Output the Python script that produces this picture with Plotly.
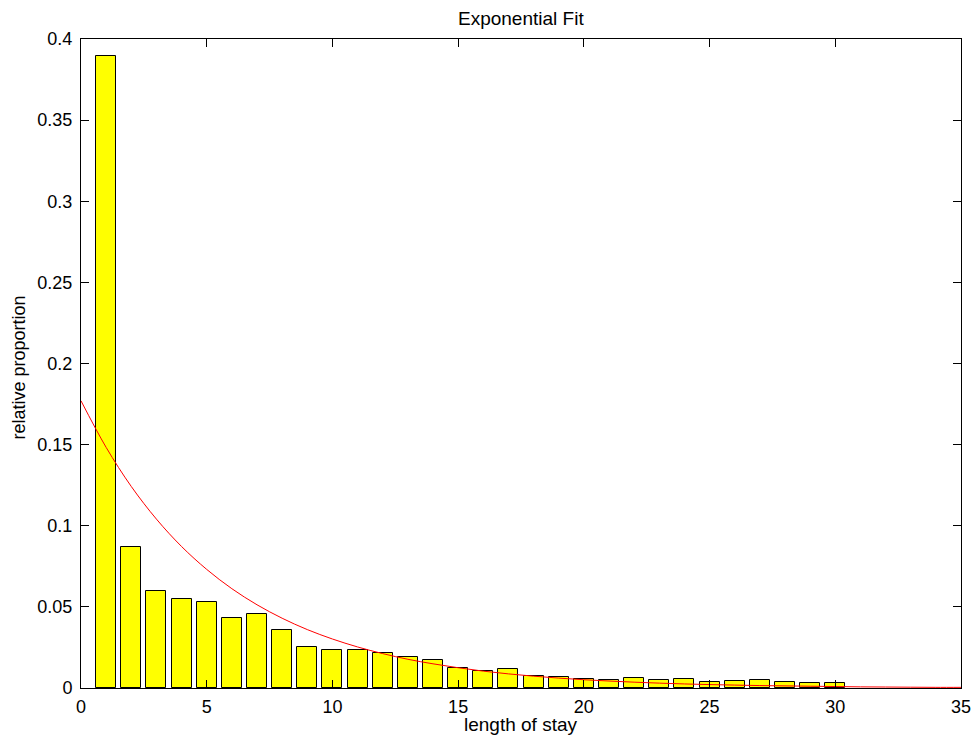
import plotly.graph_objects as go

# Data
stay_days = list(range(1, 31))
proportions = [0.3893, 0.0869, 0.0595, 0.0549, 0.0532, 0.0431, 0.0458, 0.0355,
               0.0253, 0.0234, 0.0234, 0.0216, 0.0189, 0.0174, 0.0123, 0.0105,
               0.0117, 0.0076, 0.0070, 0.0055, 0.0051, 0.0062, 0.0051, 0.0056,
               0.0040, 0.0046, 0.0048, 0.0038, 0.0033, 0.0033]

fit_x = list(range(0, 36))
fit_y = [0.1770, 0.1483, 0.1242, 0.1041, 0.0872, 0.0731, 0.0612, 0.0513, 0.0430,
         0.0360, 0.0302, 0.0253, 0.0212, 0.0177, 0.0149, 0.0125, 0.0104, 0.0087,
         0.0073, 0.0061, 0.0051, 0.0043, 0.0036, 0.0030, 0.0025, 0.0021, 0.0018,
         0.0015, 0.0013, 0.0011, 0.0009, 0.0007, 0.0006, 0.0005, 0.0004, 0.0004]

x_ticks = [0, 5, 10, 15, 20, 25, 30, 35]
y_ticks = [0, 0.05, 0.1, 0.15, 0.2, 0.25, 0.3, 0.35, 0.4]
y_tick_labels = ["0", "0.05", "0.1", "0.15", "0.2", "0.25", "0.3", "0.35", "0.4"]

FONT = "Liberation Sans, Arial, sans-serif"
FS = 18

fig = go.Figure()
fig.add_trace(go.Bar(x=stay_days, y=proportions, width=0.8,
                     marker=dict(color="#ffff00", line=dict(color="black", width=1)),
                     showlegend=False, hoverinfo="skip"))
fig.add_trace(go.Scatter(x=fit_x, y=fit_y, mode="lines", line=dict(color="red", width=1, shape="spline"),
                         showlegend=False, hoverinfo="skip", cliponaxis=False))

axis_common = dict(showgrid=False, zeroline=False, showline=True, linecolor="black", linewidth=1,
                   mirror="ticks", ticks="inside", ticklen=8, tickcolor="black", tickwidth=1,
                   ticklabeloverflow="allow", automargin=False,
                   tickfont=dict(family=FONT, size=FS, color="black"))

fig.update_xaxes(range=[0, 35], tickvals=x_ticks, ticktext=[str(v) for v in x_ticks],
                 ticklabelstandoff=2, **axis_common)
fig.update_yaxes(range=[0, 0.4], tickvals=y_ticks, ticktext=y_tick_labels,
                 ticklabelstandoff=4, **axis_common)

fig.update_layout(
    width=971, height=735,
    margin=dict(l=81, r=10, t=39, b=47, autoexpand=False),
    paper_bgcolor="white", plot_bgcolor="white",
    bargap=0,
    font=dict(family=FONT, color="black"),
    annotations=[
        dict(text="Exponential Fit", xref="paper", yref="paper", x=0.5, y=1, yshift=21,
             showarrow=False, font=dict(size=FS + 1, family=FONT), xanchor="center", yanchor="middle"),
        dict(text="length of stay", xref="paper", yref="paper", x=0.5, y=0, yshift=-36,
             showarrow=False, font=dict(size=FS + 1, family=FONT), xanchor="center", yanchor="middle"),
        dict(text="relative proportion", xref="paper", yref="paper", x=0, y=0.5, xshift=-63, yshift=-4,
             showarrow=False, textangle=-90, font=dict(size=FS, family=FONT),
             xanchor="center", yanchor="middle"),
    ],
)

fig.write_html("out.html", config={"displayModeBar": False},
               post_script="document.body.style.margin='0';document.body.style.overflow='hidden';")
